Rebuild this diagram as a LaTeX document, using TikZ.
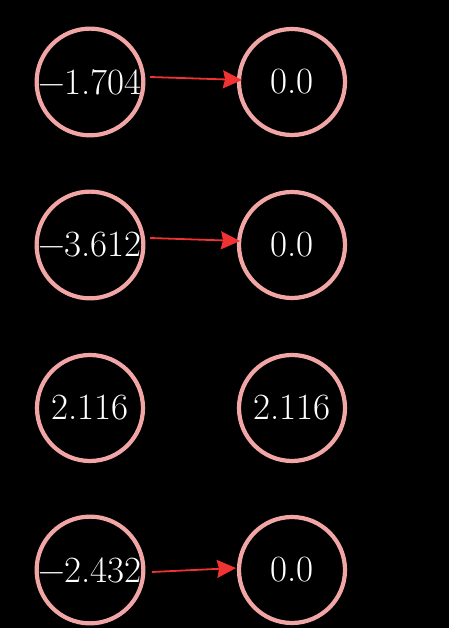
\documentclass[tikz,border=0pt]{standalone}
\usetikzlibrary{arrows.meta}
\definecolor{ringpink}{RGB}{242,165,165}
\definecolor{arrowred}{RGB}{240,50,50}
\begin{document}
\begin{tikzpicture}[x=1pt,y=1pt,
  neuron/.style={circle,draw=ringpink,line width=4.2pt,minimum size=106pt,inner sep=0pt,text=white,font=\fontsize{37}{37}\selectfont},
  zeroarrow/.style={draw=arrowred,line width=1.8pt,-{Stealth[length=19pt,width=18pt,inset=2pt]}}]
\fill[black] (0,0) rectangle (449,628);
\useasboundingbox (0,0) rectangle (449,628);
\node[neuron] (a1) at (90,546) {−1.704};
\node[neuron] (b1) at (292,546) {0.0};
\node[neuron] (a2) at (90,383) {−3.612};
\node[neuron] (b2) at (292,383) {0.0};
\node[neuron] (a3) at (90,220) {2.116};
\node[neuron] (b3) at (292,220) {2.116};
\node[neuron] (a4) at (90,58) {−2.432};
\node[neuron] (b4) at (292,58) {0.0};
\coordinate (s1) at (150,551); \coordinate (e1) at (242,548);
\coordinate (s2) at (150,390); \coordinate (e2) at (240,387);
\coordinate (s4) at (152,56); \coordinate (e4) at (236,60);
\draw[zeroarrow] (s1) -- (e1);
\draw[zeroarrow] (s2) -- (e2);
\draw[zeroarrow] (s4) -- (e4);
\end{tikzpicture}
\end{document}
